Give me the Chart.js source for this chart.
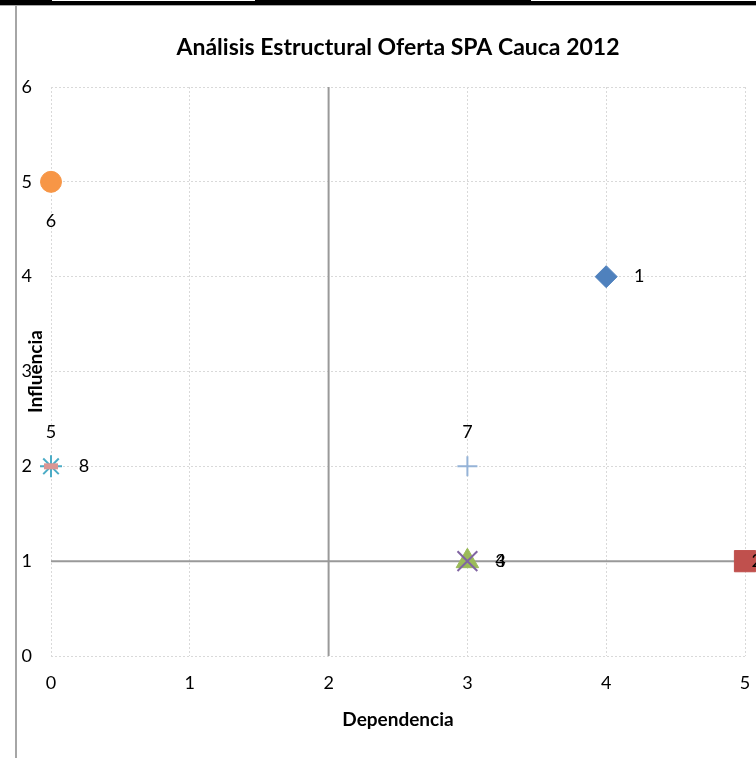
<!DOCTYPE html>
<html>
<head>
<meta charset="utf-8">
<script src="https://cdn.jsdelivr.net/npm/chart.js@4"></script>
<style>
  html, body { margin: 0; padding: 0; background: #fff; overflow: hidden; }
  #wrap { position: relative; width: 762px; height: 758px; }
  .rule { position: absolute; }
</style>
</head>
<body>
<div id="wrap">
  <canvas id="matrix_chart" width="762" height="758"></canvas>
  <div class="rule" style="left:0;top:1px;width:762px;height:4px;background:#000"></div>
  <div class="rule" style="left:0;top:0;width:52px;height:2px;background:#000"></div>
  <div class="rule" style="left:255px;top:0;width:276px;height:2px;background:#000"></div>
  <div class="rule" style="left:0;top:5px;width:762px;height:1px;background:#aaa"></div>
  <div class="rule" style="left:15px;top:5px;width:2px;height:753px;background:#a6a6a6"></div>
</div>
<script>
// variables of the structural analysis
const series_names = ["1", "2", "3", "4", "5", "6", "7", "8"];
const dependencia = [4, 5, 3, 3, 0, 0, 3, 0];
const influencia = [4, 1, 1, 1, 2, 5, 2, 2];

// cut lines of the quadrants
const corte_dependencia = 2;
const corte_influencia = 1;

const x_range = [0, 5];
const y_range = [0, 6];

const chart_title = "Análisis Estructural Oferta SPA Cauca 2012";
const x_title = "Dependencia";
const y_title = "Influencia";

// marker look, one per series (excel defaults)
const marker_style = ["rectRot", "rect", "triangle", "crossRot", "star", "circle", "cross", "line"];
const marker_color = ["#4F81BD", "#C0504D", "#9BBB59", "#8064A2", "#4BACC6", "#F79646", "#95B3D7", "#DA9694"];
const marker_size = [11, 15, 13, 14, 11, 10.5, 10, 7];
const marker_border = [1, 1, 1, 2, 2, 1, 2, 6];
const label_side = ["right", "right", "right", "right", "above", "below", "above", "right"];

const font_family = "Lato, 'Open Sans', sans-serif";

const point_datasets = series_names.map((name, i) => ({
  label: name,
  data: [{ x: dependencia[i], y: influencia[i] }],
  pointStyle: marker_style[i],
  pointRadius: marker_size[i],
  pointHoverRadius: marker_size[i],
  backgroundColor: marker_color[i],
  borderColor: marker_color[i],
  pointBorderWidth: marker_border[i],
  clip: false,
  // excel draws later series on top
  order: series_names.length - i,
}));

const line_datasets = [
  {
    label: "corte x",
    data: [{ x: corte_dependencia, y: y_range[0] }, { x: corte_dependencia, y: y_range[1] }],
  },
  {
    label: "corte y",
    data: [{ x: x_range[0], y: corte_influencia }, { x: x_range[1], y: corte_influencia }],
  },
].map((ds) => ({
  ...ds,
  showLine: true,
  pointRadius: 0,
  borderColor: "#999999",
  borderWidth: 2,
  order: 20,
}));

const labels_plugin = {
  id: "labels_plugin",
  afterDatasetsDraw: (chart) => {
    const ctx = chart.ctx;
    const area = chart.chartArea;
    ctx.save();
    ctx.fillStyle = "#000";
    ctx.textAlign = "center";
    ctx.textBaseline = "middle";
    ctx.font = "18px " + font_family;
    series_names.forEach((name, i) => {
      const point = chart.getDatasetMeta(i).data[0];
      let x = point.x;
      let y = point.y;
      if (label_side[i] === "right") x += 33;
      else if (label_side[i] === "above") y -= 34;
      else if (label_side[i] === "below") y += 39;
      // keep label inside the chart area like excel does
      const half = ctx.measureText(name).width / 2;
      x = Math.min(x, chart.width - half);
      ctx.fillText(name, x, y);
    });

    // chart title centered over plot
    ctx.font = "bold 23px " + font_family;
    ctx.fillText(chart_title, (area.left + area.right) / 2, 48);

    // y axis title, sits over the tick labels
    ctx.font = "bold 19px " + font_family;
    ctx.translate(36, (area.top + area.bottom) / 2);
    ctx.rotate(-Math.PI / 2);
    ctx.fillText(y_title, 0, 0);
    ctx.restore();
  },
};

const config_matrix = {
  type: "scatter",
  data: { datasets: [...point_datasets, ...line_datasets] },
  options: {
    responsive: false,
    animation: false,
    layout: { padding: { top: 87, right: 17, left: 0, bottom: 0 } },
    plugins: {
      legend: { display: false },
      title: { display: false },
      tooltip: { enabled: false },
    },
    scales: {
      x: {
        type: "linear",
        min: x_range[0],
        max: x_range[1],
        afterFit: (scale) => { scale.height = 102; },
        ticks: {
          stepSize: 1,
          padding: 0,
          color: "#000",
          font: { family: font_family, size: 18 },
        },
        // invisible tick marks push the labels down without widening the side padding
        grid: { color: "#D9D9D9", drawTicks: true, tickLength: 16, tickColor: "rgba(0,0,0,0)" },
        border: { display: false, dash: [2, 2] },
        title: {
          display: true,
          text: x_title,
          color: "#000",
          padding: { top: 0, bottom: 27 },
          font: { family: font_family, size: 19, weight: "bold" },
        },
      },
      y: {
        type: "linear",
        min: y_range[0],
        max: y_range[1],
        afterFit: (scale) => { scale.width = 51; },
        ticks: {
          stepSize: 1,
          padding: 19,
          color: "#000",
          font: { family: font_family, size: 18 },
        },
        grid: { color: "#D9D9D9", drawTicks: false },
        border: { display: false, dash: [2, 2] },
      },
    },
  },
  plugins: [labels_plugin],
};

var ctx_matrix = document.getElementById("matrix_chart");
var matrix_chart = new Chart(ctx_matrix, config_matrix);
</script>
</body>
</html>
